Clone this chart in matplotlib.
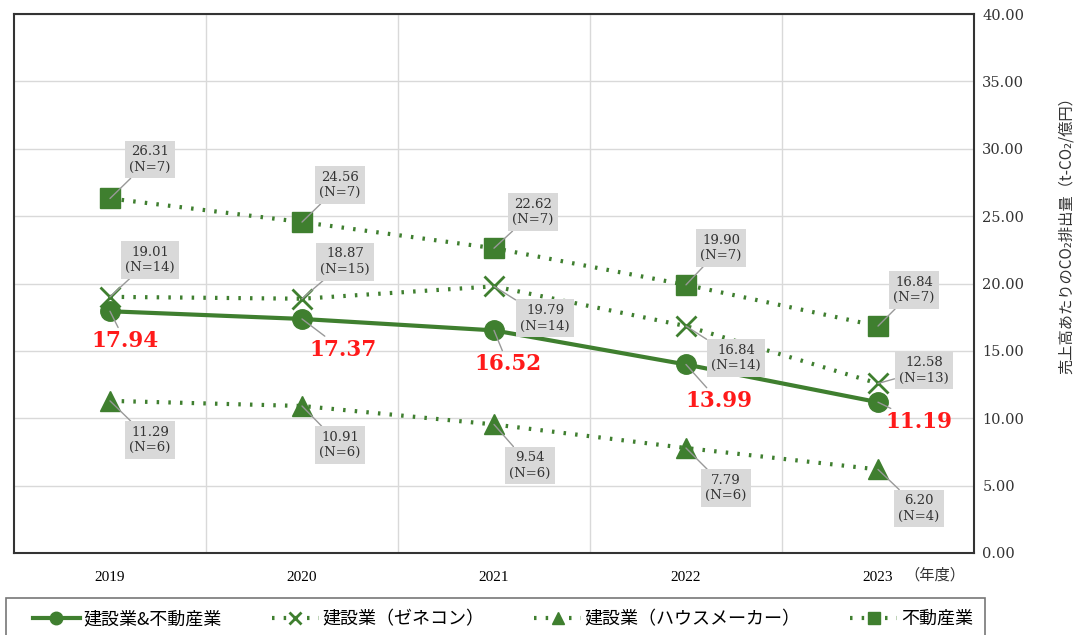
import matplotlib.pyplot as plt
from matplotlib.lines import Line2D
from matplotlib.patches import Rectangle

plt.rcParams['font.family'] = ['DejaVu Serif', 'Noto Sans CJK JP']

years = ['2019', '2020', '2021', '2022', '2023']

total = [17.94, 17.37, 16.52, 13.99, 11.19]
zenecon = [19.01, 18.87, 19.79, 16.84, 12.58]
zenecon_n = [14, 15, 14, 14, 13]
house = [11.29, 10.91, 9.54, 7.79, 6.20]
house_n = [6, 6, 6, 6, 4]
fudosan = [26.31, 24.56, 22.62, 19.90, 16.84]
fudosan_n = [7, 7, 7, 7, 7]

names = ['建設業&不動産業', '建設業（ゼネコン）', '建設業（ハウスメーカー）', '不動産業']

# label offsets in pixels from each marker
off_fudosan = [(40, 39), (38, 37), (39, 36), (35, 37), (36, 36)]
off_zenecon = [(40, 37), (43, 37), (51, -32), (50, -32), (46, 13)]
off_house = [(40, -39), (38, -39), (36, -41), (40, -40), (41, -39)]
off_total = [(15, -30), (41, -31), (14, -34), (33, -37), (41, -20)]

green = '#3f7f2f'
dot = (0, (0.6, 2.2))
jp = ['Noto Sans CJK JP', 'DejaVu Sans']

fig = plt.figure(figsize=(10.83, 6.35), dpi=100)
ax = fig.add_axes([14 / 1083, 82 / 635, 960 / 1083, 539 / 635])

x = list(range(len(years)))
ax.plot(x, total, color=green, lw=3, marker='o', ms=14, zorder=3)
ax.plot(x, zenecon, color=green, lw=3, ls=dot, marker='x', ms=15, mew=2, zorder=3)
ax.plot(x, house, color=green, lw=3, ls=dot, marker='^', ms=15, zorder=3)
ax.plot(x, fudosan, color=green, lw=3, ls=dot, marker='s', ms=14, zorder=3)


def boxed(vals, ns, offs):
    for i, (v, n, o) in enumerate(zip(vals, ns, offs)):
        ax.annotate(f'{v:.2f}\n(N={n})', xy=(i, v), xytext=o, textcoords='offset pixels',
                    ha='center', va='center', fontsize=9.5, color='#333333', linespacing=1.25,
                    bbox=dict(boxstyle='square,pad=0.35', fc='#d9d9d9', ec='none'),
                    arrowprops=dict(arrowstyle='-', color='#999999', lw=1, shrinkA=0, shrinkB=0),
                    zorder=5)


boxed(fudosan, fudosan_n, off_fudosan)
boxed(zenecon, zenecon_n, off_zenecon)
boxed(house, house_n, off_house)

for i, (v, o) in enumerate(zip(total, off_total)):
    ax.annotate(f'{v:.2f}', xy=(i, v), xytext=o, textcoords='offset pixels',
                ha='center', va='center', fontsize=15.5, fontweight='bold', color='#ff1a1a',
                arrowprops=dict(arrowstyle='-', color='#999999', lw=1, shrinkA=0, shrinkB=0),
                zorder=5)

ax.set_xlim(-0.5, 4.5)
ax.set_ylim(0, 40)
ax.set_xticks(x)
ax.set_xticklabels(years, fontsize=11, family='Liberation Serif')
ax.set_xticks([0.5, 1.5, 2.5, 3.5], minor=True)
ax.grid(False)
ax.grid(True, which='minor', axis='x', color='#d9d9d9', lw=1)
ax.set_yticks(range(0, 41, 5))
ax.set_yticklabels([f'{t:.2f}' for t in range(0, 41, 5)], fontsize=10.5, color='#333333')
ax.yaxis.grid(True, color='#d9d9d9', lw=1)
ax.set_axisbelow(True)
ax.yaxis.tick_right()
ax.tick_params(axis='both', which='both', length=0)
ax.tick_params(axis='y', pad=6)
ax.tick_params(axis='x', pad=13)
for s in ax.spines.values():
    s.set_color('#333333')
    s.set_linewidth(1.5)

# y-axis title sits to the right of the tick labels, above centre
fig.text(1066 / 1083, 1 - 232 / 635, '売上高あたりのCO₂排出量（t-CO₂/億円）', rotation=90,
         ha='center', va='center', fontsize=11, color='#333333', family=jp)

fig.text(935 / 1083, 60 / 635, '（年度）', ha='center', va='center', fontsize=11,
         color='#333333', family=jp)

# legend frame drawn separately so the entries can sit inset from it
fig.patches.append(Rectangle((6 / 1083, -0.02), 979 / 1083, 50 / 635, transform=fig.transFigure,
                             fill=False, ec='#777777', lw=1.2))

handles = [
    Line2D([], [], color=green, lw=3, marker='o', ms=9),
    Line2D([], [], color=green, lw=3, ls=dot, marker='x', ms=8, mew=2),
    Line2D([], [], color=green, lw=3, ls=dot, marker='^', ms=9),
    Line2D([], [], color=green, lw=3, ls=dot, marker='s', ms=9),
]
fig.legend(handles, names, loc='center left', bbox_to_anchor=(33 / 1083, 16 / 635, 940 / 1083, 0),
           mode='expand', ncol=4, frameon=False,
           prop={'family': jp, 'size': 13},
           handlelength=2.6, handletextpad=0.2, columnspacing=1.5,
           borderaxespad=0, borderpad=0)

fig.savefig('out.png', dpi=100)
